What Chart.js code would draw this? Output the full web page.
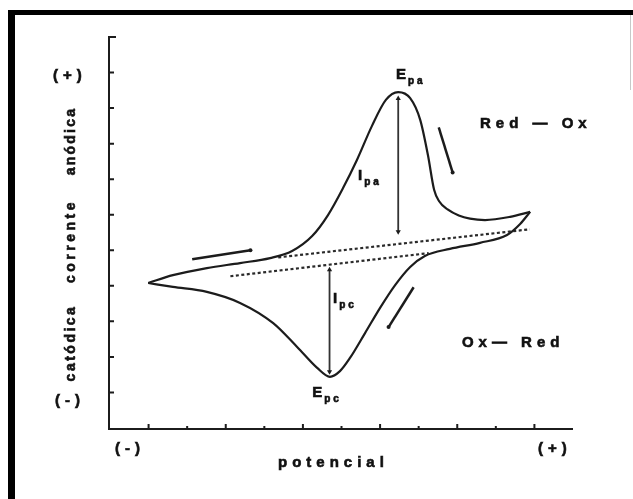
<!DOCTYPE html>
<html>
<head>
<meta charset="utf-8">
<script src="https://cdn.jsdelivr.net/npm/chart.js@4.4.0/dist/chart.umd.min.js"></script>
<style>
  body { margin: 0; background: #fff; }
  canvas { display: block; }
</style>
</head>
<body>
<canvas id="cv" width="633" height="499"></canvas>
<script>
// voltammogram, in axis units (potencial 0..12, corrente 0..11)
const anodicX = [0.99, 1.63, 2.51, 3.37, 4.15, 4.72, 5.24, 5.65, 6.04, 6.40, 6.79, 7.15, 7.47, 7.78, 8.04, 8.24, 8.40, 8.53, 8.75, 9.04, 9.33, 9.72, 10.37, 10.89]
const anodicY = [4.08, 4.30, 4.50, 4.64, 4.78, 4.98, 5.40, 5.99, 6.75, 7.54, 8.50, 9.23, 9.45, 9.28, 8.67, 7.68, 6.70, 6.38, 6.15, 5.98, 5.89, 5.85, 5.94, 6.08]
const cathodicX = [10.89, 10.63, 10.29, 9.59, 8.81, 8.16, 7.78, 7.39, 7.00, 6.61, 6.22, 5.96, 5.70, 5.37, 4.85, 4.23, 3.37, 2.51, 1.63, 0.99]
const cathodicY = [6.08, 5.74, 5.43, 5.21, 5.04, 4.84, 4.53, 4.02, 3.38, 2.67, 1.97, 1.60, 1.44, 1.69, 2.28, 2.95, 3.52, 3.83, 3.97, 4.08]

// extrapolated baselines (dotted)
const baseUpperX = [4.36, 10.88]
const baseUpperY = [4.80, 5.59]
const baseLowerX = [3.12, 8.26]
const baseLowerY = [4.27, 4.92]

// peak currents
const ipaX = [7.47, 7.47]
const ipaY = [9.27, 5.52]
const ipcX = [5.69, 5.69]
const ipcY = [4.45, 1.58]

// scan direction strokes
const dirX = [[2.13, 3.64], [8.52, 8.88], [7.87, 7.22]]
const dirY = [[4.75, 5.00], [8.46, 7.19], [3.96, 2.84]]

const xTicks = [1, 2, 3, 4, 5, 6, 7, 8, 9, 10, 11]
const yTicks = [1, 2, 3, 4, 5, 6, 7, 8, 9, 10]

// label: main letter, subscript, anchor (axis units)
const peakLabels = [
  ['E', 'pa', 7.41, 9.82],
  ['I', 'pa', 6.43, 6.97],
  ['I', 'pc', 5.78, 3.52],
  ['E', 'pc', 5.24, 0.87]
]
const reactionLabels = [
  ['Red — Ox', 9.59, 8.44],
  ['Ox— Red', 9.12, 2.28]
]
const yTitle = ['anódica', 'corrente', 'catódica']

const ink = '#1c1c1c'
const pts = (xs, ys) => xs.map((v, i) => ({ x: v, y: ys[i] }))

const datasets = [
  { data: pts(anodicX, anodicY), borderWidth: 2.2, cubicInterpolationMode: 'monotone' },
  { data: pts(cathodicX, cathodicY), borderWidth: 2.2, cubicInterpolationMode: 'monotone' },
  { data: pts(baseUpperX, baseUpperY), borderWidth: 2.2, borderDash: [3, 2.5], borderColor: '#2a2a2a' },
  { data: pts(baseLowerX, baseLowerY), borderWidth: 2.2, borderDash: [3, 2.5], borderColor: '#2a2a2a' },
  { data: pts(ipaX, ipaY), borderWidth: 1.8, borderColor: '#333', pointStyle: 'triangle', pointRadius: 3, pointRotation: [0, 180] },
  { data: pts(ipcX, ipcY), borderWidth: 1.8, borderColor: '#333', pointStyle: 'triangle', pointRadius: 3, pointRotation: [0, 180] }
]
dirX.forEach((xs, i) => {
  datasets.push({ data: pts(xs, dirY[i]), borderWidth: 2.5, pointRadius: [0, 2] })
})
datasets.forEach(d => {
  d.showLine = true
  d.borderColor = d.borderColor || ink
  d.backgroundColor = ink
  d.pointBorderWidth = 0
  if (d.pointRadius === undefined) d.pointRadius = 0
  d.clip = false
})

function txt(ctx, s, x, y, font, sp) {
  ctx.font = font
  ctx.letterSpacing = sp + 'px'
  ctx.fillText(s, x, y)
  ctx.strokeText(s, x, y)
  return ctx.measureText(s).width - sp
}

const deco = {
  id: 'deco',
  beforeDraw(chart) {
    const ctx = chart.ctx
    ctx.save()
    ctx.fillStyle = '#fff'
    ctx.fillRect(0, 0, chart.width, chart.height)
    // scanned frame
    ctx.fillStyle = '#000'
    ctx.fillRect(8, 10, 7, chart.height - 10)
    ctx.fillRect(8, 10, chart.width - 8, 5)
    ctx.fillStyle = '#c8c8c8'
    ctx.fillRect(630, 15, 1, 75)
    ctx.restore()
  },
  afterDraw(chart) {
    const { ctx, chartArea: a, scales: { x, y } } = chart
    ctx.save()
    ctx.strokeStyle = ink
    ctx.lineWidth = 2
    ctx.beginPath()
    ctx.moveTo(a.left + 6, a.top)
    ctx.lineTo(a.left - 1, a.top)
    ctx.lineTo(a.left - 1, a.bottom + 1)
    ctx.lineTo(a.right, a.bottom + 1)
    yTicks.forEach(v => {
      const p = y.getPixelForValue(v)
      ctx.moveTo(a.left, p)
      ctx.lineTo(a.left + 4, p)
    })
    xTicks.forEach(v => {
      const p = x.getPixelForValue(v)
      ctx.moveTo(p, a.bottom)
      ctx.lineTo(p, a.bottom - (v % 2 ? 4 : 2))
    })
    ctx.stroke()

    ctx.fillStyle = '#111'
    ctx.strokeStyle = '#111'
    ctx.lineWidth = 0.6
    ctx.textBaseline = 'alphabetic'
    ctx.textAlign = 'left'
    const bold = s => 'bold ' + s + 'px "Liberation Sans", Arial, sans-serif'

    peakLabels.forEach(([m, sub, vx, vy]) => {
      const px = x.getPixelForValue(vx)
      const py = y.getPixelForValue(vy)
      const w = txt(ctx, m, px, py, bold(15), 0)
      txt(ctx, sub, px + w + 2, py + 5, bold(10), 3)
    })
    reactionLabels.forEach(([s, vx, vy]) => {
      txt(ctx, s, x.getPixelForValue(vx), y.getPixelForValue(vy), bold(15), 5)
    })

    // axis end marks
    txt(ctx, '(+)', a.left - 57, a.top + 43, bold(15), 5)
    txt(ctx, '(-)', a.left - 55, a.top + 368, bold(15), 5)
    txt(ctx, '(-)', a.left + 5, a.bottom + 25, bold(15), 5)
    txt(ctx, '(+)', a.right - 35, a.bottom + 25, bold(15), 5)
    txt(ctx, 'potencial', a.left + 168, a.bottom + 39, bold(15), 5)

    // rotated y title, read bottom to top
    ctx.translate(a.left - 35, 0)
    ctx.rotate(-Math.PI / 2)
    ctx.textAlign = 'center'
    txt(ctx, yTitle[0], -141, 0, bold(14), 2.2)
    txt(ctx, yTitle[1], -241, 0, bold(14), 3.5)
    txt(ctx, yTitle[2], -343, 0, bold(14), 2.5)
    ctx.restore()
  }
}

new Chart(document.getElementById('cv'), {
  type: 'scatter',
  data: { datasets },
  options: {
    responsive: false,
    animation: false,
    layout: { padding: { left: 110, right: 60, top: 37, bottom: 71 } },
    plugins: { legend: { display: false }, tooltip: { enabled: false } },
    scales: {
      x: { type: 'linear', min: 0, max: 12, display: false },
      y: { type: 'linear', min: 0, max: 11, display: false }
    }
  },
  plugins: [deco]
})
</script>
</body>
</html>
